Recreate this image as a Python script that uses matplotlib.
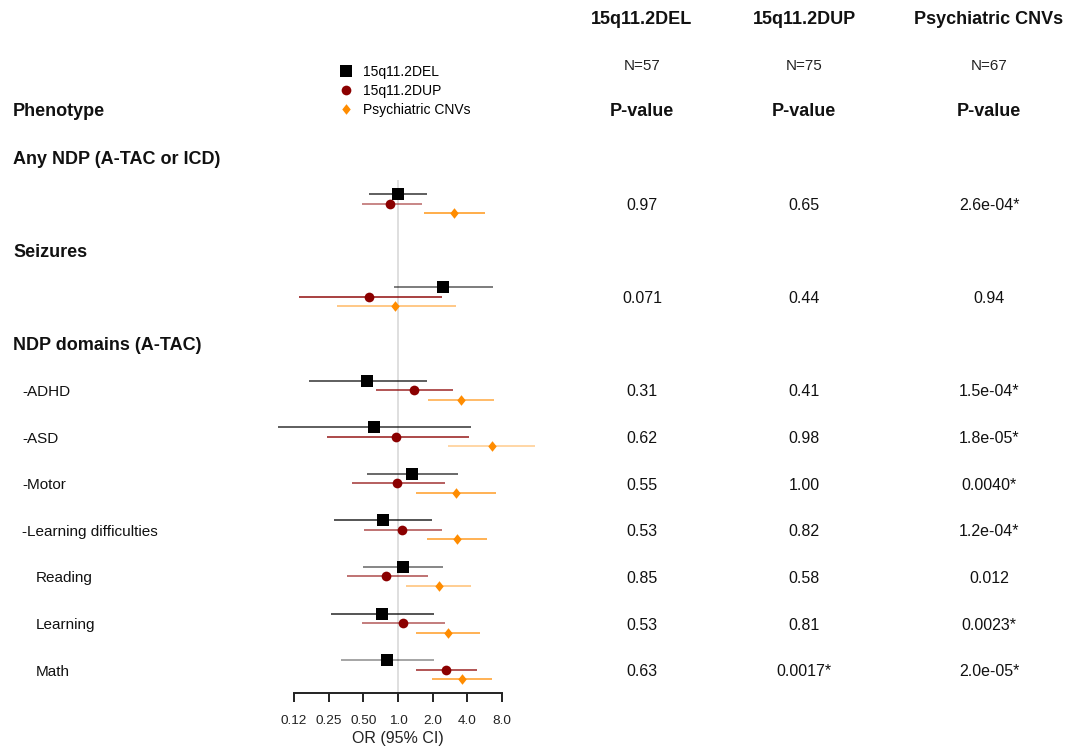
import matplotlib
matplotlib.use('Agg')
import matplotlib.pyplot as plt
from matplotlib.lines import Line2D

plt.rcParams['font.family'] = ['Liberation Sans', 'DejaVu Sans']

W, H = 1067, 746

# ---------------- data ----------------
groups = ["15q11.2DEL", "15q11.2DUP", "Psychiatric CNVs"]
group_n = ["N=57", "N=75", "N=67"]

headers = ["Any NDP (A-TAC or ICD)", "Seizures", "NDP domains (A-TAC)"]
outcomes = ["", "", "-ADHD", "-ASD", "-Motor", "-Learning difficulties",
            "Reading", "Learning", "Math"]

del_or = [1.00, 2.46, 0.54, 0.62, 1.32, 0.74, 1.10, 0.73, 0.80]
del_lo = [0.56, 0.92, 0.17, 0.091, 0.54, 0.28, 0.50, 0.26, 0.32]
del_hi = [1.78, 6.67, 1.78, 4.30, 3.30, 1.97, 2.45, 2.05, 2.05]

dup_or = [0.86, 0.56, 1.38, 0.96, 0.98, 1.08, 0.79, 1.10, 2.60]
dup_lo = [0.49, 0.138, 0.64, 0.24, 0.40, 0.51, 0.36, 0.49, 1.43]
dup_hi = [1.62, 2.40, 3.00, 4.10, 2.56, 2.40, 1.82, 2.56, 4.85]

psy_or = [3.06, 0.95, 3.52, 6.55, 3.18, 3.25, 2.27, 2.71, 3.60]
psy_lo = [1.68, 0.296, 1.82, 2.70, 1.43, 1.78, 1.17, 1.43, 1.97]
psy_hi = [5.70, 3.18, 6.80, 15.4, 7.10, 5.90, 4.30, 5.15, 6.55]

del_p = ["0.97", "0.071", "0.31", "0.62", "0.55", "0.53", "0.85", "0.53", "0.63"]
dup_p = ["0.65", "0.44", "0.41", "0.98", "1.00", "0.82", "0.58", "0.81", "0.0017*"]
psy_p = ["2.6e-04*", "0.94", "1.5e-04*", "1.8e-05*", "0.0040*", "1.2e-04*",
         "0.012", "0.0023*", "2.0e-05*"]

# line alpha (visual weight) of each CI segment
del_alpha = [0.8, 0.65, 0.8, 0.8, 0.75, 0.85, 0.6, 0.85, 0.45]
dup_alpha = [0.6, 0.95, 0.85, 0.9, 0.8, 0.7, 0.7, 0.65, 0.85]
psy_alpha = [0.9, 0.6, 0.75, 0.45, 0.85, 0.85, 0.55, 0.85, 0.85]

tick_vals = [0.125, 0.25, 0.5, 1.0, 2.0, 4.0, 8.0]
tick_labels = ["0.12", "0.25", "0.50", "1.0", "2.0", "4.0", "8.0"]

# ---------------- layout ----------------
def fx(x):
    return x / W

def fy(y):
    return 1 - y / H

fig = plt.figure(figsize=(W / 100, H / 100), dpi=100)

slot0, slot_step = 157.0, 46.6
header_slots = [0, 2, 4]
outcome_slots = [1, 3, 5, 6, 7, 8, 9, 10, 11]
slot_y = lambda k: slot0 + slot_step * k

ax = fig.add_axes([fx(294), fy(693), fx(502 - 294), (693 - 180) / H])
ax.set_xscale('log', base=2)
ax.set_xlim(0.125, 8)
ax.set_ylim(693, 180)
for s in ['left', 'top', 'right']:
    ax.spines[s].set_visible(False)
ax.spines['bottom'].set_linewidth(1.4)
ax.spines['bottom'].set_color('#222222')
ax.set_yticks([])
ax.set_xticks(tick_vals)
ax.set_xticklabels(tick_labels)
ax.xaxis.set_minor_locator(matplotlib.ticker.NullLocator())
ax.tick_params(axis='x', length=6.5, width=1.4, color='#222222',
               labelsize=9.7, pad=9, labelcolor='#222222')
ax.set_xlabel("OR (95% CI)", fontsize=11.5, labelpad=3, color='#222222')
ax.axvline(1.0, color='#dcdcdc', lw=1.3, zorder=0)

diamond = [(-0.8, 0), (0, 1), (0.8, 0), (0, -1), (-0.8, 0)]
series = [
    (del_or, del_lo, del_hi, del_alpha, 'black', 's', 8.6, -9.5),
    (dup_or, dup_lo, dup_hi, dup_alpha, '#8b0000', 'o', 7.0, 0.0),
    (psy_or, psy_lo, psy_hi, psy_alpha, '#ff8c00', diamond, 7.6, 9.5),
]
for orv, lo, hi, al, col, mk, ms, off in series:
    for i, k in enumerate(outcome_slots):
        y = slot_y(k) + off
        ax.plot([lo[i], hi[i]], [y, y], color=col, lw=1.1, alpha=al[i],
                clip_on=False, solid_capstyle='butt', zorder=2)
        ax.plot([orv[i]], [y], marker=mk, color=col, ms=ms, mew=0,
                clip_on=False, zorder=3, linestyle='none')

# legend
handles = [Line2D([], [], color=c, marker=m, ms=s, linestyle='none', mew=0)
           for c, m, s in [('black', 's', 8.6), ('#8b0000', 'o', 7.0), ('#ff8c00', diamond, 7.6)]]
fig.legend(handles, groups, loc='upper left', bbox_to_anchor=(fx(333), fy(59)),
           frameon=False, fontsize=10, handlelength=1.0, handletextpad=0.75,
           labelspacing=0.36, borderaxespad=0, borderpad=0.4)

# column headers
col_x = [642, 804, 989]
for cx, g, n in zip(col_x, groups, group_n):
    fig.text(fx(cx), fy(20), g, ha='center', va='center', fontsize=13,
             fontweight='bold', color='#111111')
    fig.text(fx(cx), fy(66), n, ha='center', va='center', fontsize=11, color='#222222')
    fig.text(fx(cx), fy(111.5), "P-value", ha='center', va='center', fontsize=13,
             fontweight='bold', color='#111111')

fig.text(fx(13), fy(112), "Phenotype", ha='left', va='center', fontsize=13,
         fontweight='bold', color='#111111')
for k, h in zip(header_slots, headers):
    fig.text(fx(13), fy(slot_y(k) + 2), h, ha='left', va='center', fontsize=13,
             fontweight='bold', color='#111111')

for i, (k, lab) in enumerate(zip(outcome_slots, outcomes)):
    y = slot_y(k) + 2
    if lab:
        x0 = 22 if lab.startswith('-') else 36
        fig.text(fx(x0), fy(y), lab, ha='left', va='center', fontsize=11, color='#111111')
    for cx, pv in zip(col_x, [del_p[i], dup_p[i], psy_p[i]]):
        fig.text(fx(cx), fy(y), pv, ha='center', va='center', fontsize=11.5, color='#111111')

fig.savefig('out.png', dpi=100, facecolor='white')
